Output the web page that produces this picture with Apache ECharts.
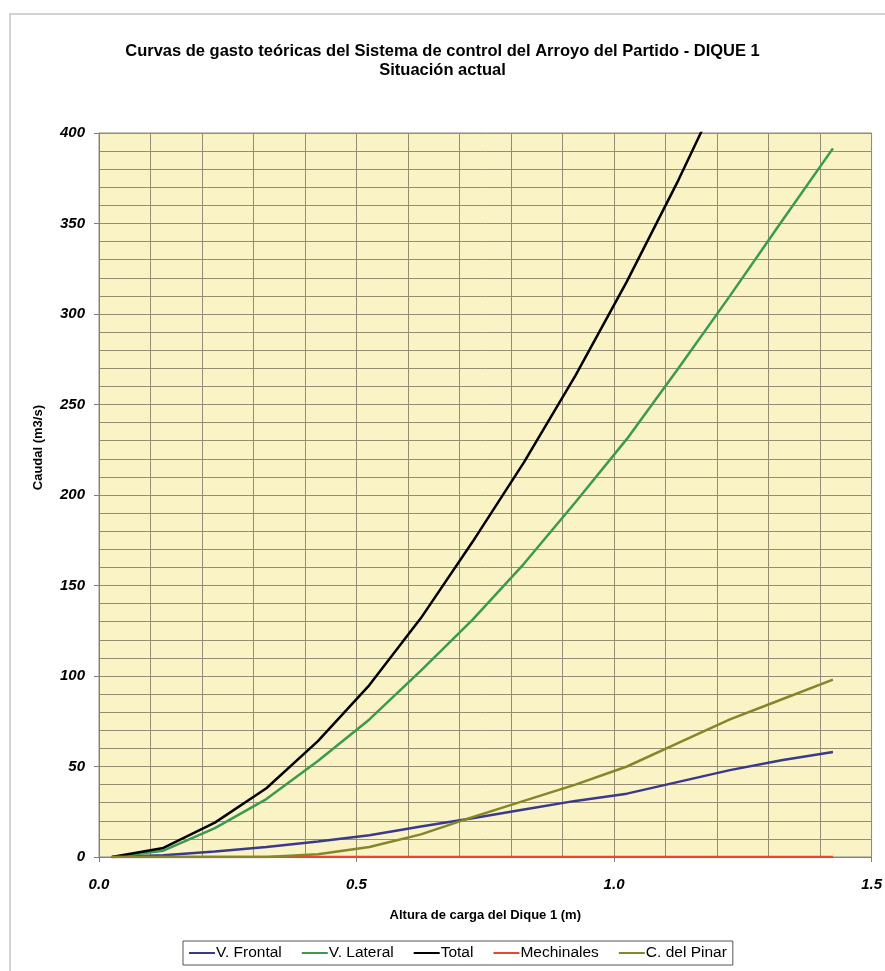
<!DOCTYPE html>
<html>
<head>
<meta charset="utf-8">
<script src="https://cdn.jsdelivr.net/npm/echarts@6/dist/echarts.min.js"></script>
<style>
html,body{margin:0;padding:0;background:#fff;}
#c{width:885px;height:971px;}
</style>
</head>
<body>
<div id="c"></div>
<script>
// Altura de carga (m)
const heights = [0.025, 0.125, 0.225, 0.325, 0.425, 0.525, 0.625, 0.725, 0.825, 0.925, 1.025, 1.125, 1.225, 1.325, 1.425];
const vFrontal   = [0, 1, 3, 5.5, 8.5, 12, 16.8, 21.4, 26.3, 31, 35, 41.5, 48, 53.5, 58];
const vLateral   = [0, 3.5, 16, 32, 53, 76, 103, 131, 162, 196, 231, 270, 310, 351, 391.5];
const total      = [0, 5, 19, 38, 64, 95, 132, 174, 218, 266, 318, 374, 434, 492, 548];
const mechinales = [0, 0, 0, 0, 0, 0, 0, 0, 0, 0, 0, 0, 0, 0, 0];
const cPinar     = [0, 0, 0, 0, 1.5, 5.5, 12.5, 22, 31, 40, 50, 63, 76, 87, 98];
const seriesNames = ['V. Frontal', 'V. Lateral', 'Total', 'Mechinales', 'C. del Pinar'];
const seriesColors = ['#3a3a8c', '#3c9a4e', '#000000', '#e8462e', '#85862a'];
const seriesData = [vFrontal, vLateral, total, mechinales, cPinar];
const xTicks = [0, 0.5, 1.0, 1.5];
const yTicks = [0, 50, 100, 150, 200, 250, 300, 350, 400];

const FONT = '"Liberation Sans", Arial, sans-serif';
const chart = echarts.init(document.getElementById('c'), null, {renderer: 'canvas'});

const series = seriesNames.map((n, i) => ({
  name: n,
  type: 'line',
  data: heights.map((h, k) => [h, seriesData[i][k]]),
  symbol: 'none',
  smooth: false,
  clip: true,
  lineStyle: {color: seriesColors[i], width: 2.5},
  itemStyle: {color: seriesColors[i]},
  z: 3
}));

chart.setOption({
  animation: false,
  backgroundColor: '#ffffff',
  graphic: [
    {type: 'rect', shape: {x: 10, y: 14, width: 900, height: 1000}, style: {fill: '#ffffff', stroke: '#c4c4c4', lineWidth: 1.5}, z: -10, silent: true},
    {type: 'text', left: 32, top: 405, rotation: Math.PI / 2, style: {text: 'Caudal (m3/s)', font: 'bold 13px ' + FONT, fill: '#000'}, z: 10}
  ],
  title: {
    text: 'Curvas de gasto teóricas del Sistema de control del Arroyo del Partido - DIQUE 1\nSituación actual',
    left: 'center',
    top: 37,
    textStyle: {fontFamily: FONT, fontWeight: 'bold', fontSize: 16.5, color: '#000', lineHeight: 19}
  },
  legend: {
    data: seriesNames,
    left: 183,
    top: 941,
    icon: 'rect',
    itemWidth: 26,
    itemHeight: 2,
    itemGap: 20,
    padding: [4, 6, 4, 6],
    borderColor: '#555',
    borderWidth: 1,
    backgroundColor: '#fff',
    textStyle: {fontFamily: FONT, fontSize: 15.5, color: '#000', padding: [0, 0, 0, -4]}
  },
  grid: {left: 99, right: 13, top: 133, bottom: 114, show: true, backgroundColor: '#f9f3c6', borderColor: '#8c8c8c', borderWidth: 1},
  xAxis: {
    type: 'value',
    min: 0, max: 1.5, interval: 0.5,
    name: 'Altura de carga del Dique 1 (m)',
    nameLocation: 'middle',
    nameGap: 52,
    nameTextStyle: {fontFamily: FONT, fontWeight: 'bold', fontSize: 13, color: '#000'},
    axisLine: {show: true, onZero: false, lineStyle: {color: '#808080', width: 1}},
    axisTick: {show: true, length: 5, lineStyle: {color: '#808080'}},
    minorTick: {show: false, splitNumber: 5},
    splitLine: {show: true, lineStyle: {color: '#938e72', width: 1}},
    minorSplitLine: {show: true, lineStyle: {color: '#938e72', width: 1}},
    axisLabel: {
      margin: 20,
      fontFamily: FONT, fontWeight: 'bold', fontStyle: 'italic', fontSize: 15, color: '#000',
      formatter: v => xTicks.some(t => Math.abs(t - v) < 1e-9) ? v.toFixed(1) : ''
    }
  },
  yAxis: {
    type: 'value',
    min: 0, max: 400, interval: 50,
    axisLine: {show: true, lineStyle: {color: '#808080', width: 1}},
    axisTick: {show: true, length: 5, lineStyle: {color: '#808080'}},
    minorTick: {show: false, splitNumber: 5},
    splitLine: {show: true, lineStyle: {color: '#938e72', width: 1}},
    minorSplitLine: {show: true, lineStyle: {color: '#938e72', width: 1}},
    axisLabel: {
      margin: 14,
      fontFamily: FONT, fontWeight: 'bold', fontStyle: 'italic', fontSize: 15, color: '#000',
      formatter: v => yTicks.includes(v) ? String(v) : ''
    }
  },
  series: series
});
</script>
</body>
</html>
